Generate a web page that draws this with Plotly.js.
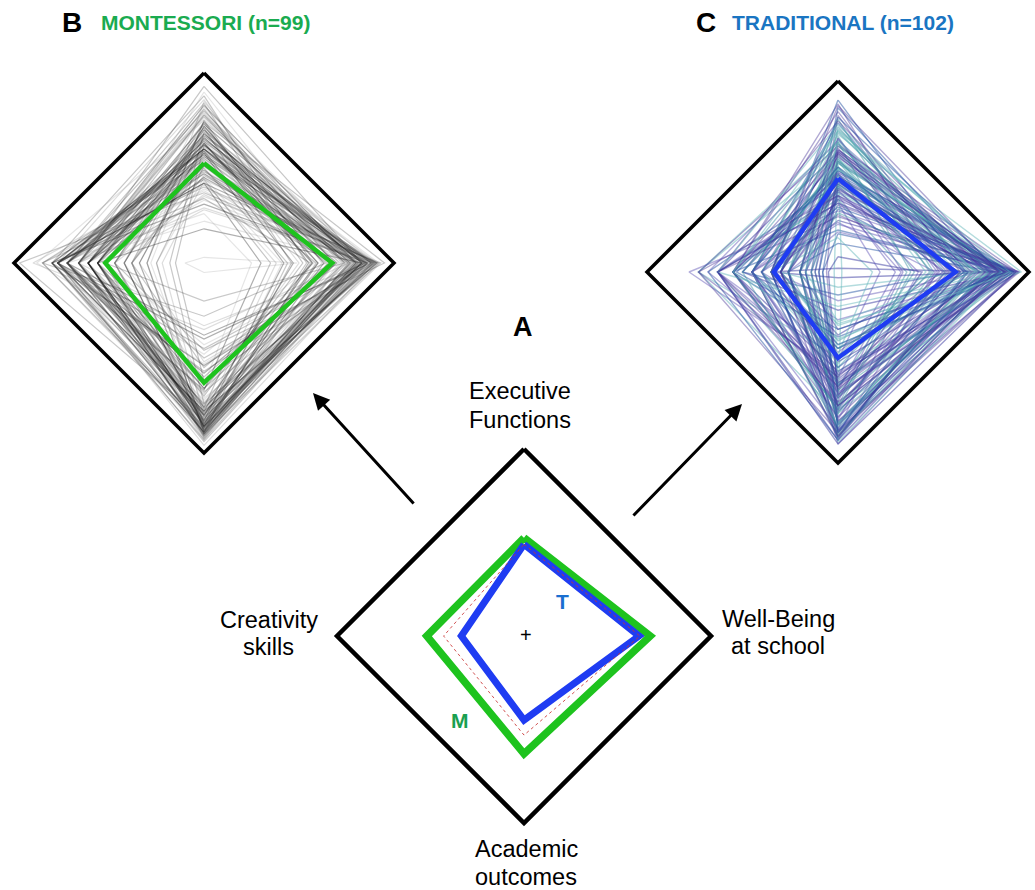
<!DOCTYPE html>
<html>
<head>
<meta charset="utf-8">
<script src="https://cdn.plot.ly/plotly-3.0.1.min.js"></script>
<style>html,body{margin:0;padding:0;background:#fff;}#chart{width:1035px;height:890px;}</style>
</head>
<body>
<div id="chart"></div>
<script>
// ---- Axis names (top, right, bottom, left), two lines each ----
const axisNames = [["Executive", "Functions"], ["Well-Being", "at school"], ["Academic", "outcomes"], ["Creativity", "skills"]];

// ---- Group mean profiles (fraction of the outer diamond) ----
const montMean = { EF: 0.525, WB: 0.675, AO: 0.63, CS: 0.52 };
const tradMean = { EF: 0.49, WB: 0.615, AO: 0.45, CS: 0.335 };
const refProfile = { EF: 0.49, WB: 0.62, AO: 0.53, CS: 0.43 };
const frameLevel = { EF: 1, WB: 1, AO: 1, CS: 1 };

// ---- Montessori individual profiles (n=99) ----
const montEF = [0.62,0.48,0.75,0.55,0.81,0.40,0.68,0.59,0.33,0.72,
0.51,0.86,0.64,0.45,0.57,0.78,0.29,0.66,0.53,0.70,
0.44,0.61,0.83,0.38,0.58,0.74,0.49,0.65,0.22,0.69,
0.56,0.79,0.42,0.63,0.52,0.88,0.35,0.60,0.71,0.47,
0.54,0.67,0.18,0.76,0.50,0.62,0.41,0.73,0.58,0.84,
0.46,0.64,0.31,0.69,0.55,0.77,0.43,0.60,0.90,0.37,
0.66,0.52,0.72,0.26,0.59,0.80,0.48,0.63,0.39,0.70,
0.57,0.85,0.45,0.61,0.34,0.74,0.53,0.68,0.03,0.62,
0.49,0.78,0.42,0.65,0.56,0.71,0.28,0.60,0.82,0.47,
0.67,0.36,0.58,0.75,0.51,0.93,0.44,0.63,0.54];
const montWB = [0.84,0.90,0.55,0.80,0.68,0.92,0.83,0.47,0.86,0.66,
0.79,0.62,0.88,0.41,0.85,0.74,0.90,0.77,0.58,0.83,
0.35,0.87,0.80,0.69,0.91,0.52,0.76,0.89,0.82,0.60,
0.88,0.73,0.30,0.85,0.81,0.57,0.93,0.70,0.78,0.86,
0.64,0.91,0.83,0.78,0.44,0.88,0.67,0.84,0.90,0.54,
0.82,0.50,0.86,0.92,0.75,0.80,0.38,0.85,0.71,0.89,
0.77,0.84,0.63,0.25,0.89,0.79,0.86,0.60,0.93,0.74,
0.90,0.68,0.81,0.87,0.56,0.95,0.72,0.83,0.49,0.80,
0.59,0.85,0.91,0.73,0.82,0.46,0.88,0.76,0.84,0.69,
0.86,0.78,0.42,0.89,0.65,0.83,0.90,0.57,0.81];
const montAO = [0.45,0.83,0.89,0.72,0.60,0.86,0.92,0.78,0.88,0.55,
0.90,0.80,0.38,0.85,0.93,0.66,0.79,0.87,0.48,0.82,
0.76,0.52,0.88,0.91,0.81,0.70,0.35,0.84,0.89,0.74,
0.85,0.92,0.67,0.43,0.86,0.80,0.90,0.58,0.77,0.94,
0.28,0.78,0.86,0.83,0.89,0.62,0.84,0.91,0.71,0.80,
0.88,0.69,0.54,0.90,0.75,0.87,0.81,0.40,0.92,0.83,
0.82,0.91,0.86,0.64,0.50,0.79,0.88,0.85,0.73,0.20,
0.57,0.84,0.90,0.80,0.87,0.46,0.93,0.76,0.05,0.89,
0.86,0.33,0.78,0.92,0.68,0.85,0.81,0.89,0.61,0.77,
0.74,0.88,0.83,0.53,0.90,0.80,0.96,0.66,0.85];
const montCS = [0.77,0.56,0.30,0.72,0.66,0.85,0.47,0.77,0.61,0.38,
0.52,0.77,0.72,0.25,0.80,0.61,0.66,0.42,0.77,0.56,
0.72,0.34,0.66,0.77,0.47,0.56,0.90,0.61,0.72,0.18,
0.61,0.66,0.77,0.52,0.38,0.80,0.56,0.72,0.28,0.77,
0.85,0.47,0.56,0.66,0.72,0.15,0.77,0.61,0.52,0.72,
0.38,0.72,0.80,0.47,0.61,0.66,0.22,0.77,0.56,0.97,
0.66,0.61,0.42,0.77,0.56,0.72,0.85,0.34,0.66,0.52,
0.77,0.30,0.61,0.72,0.80,0.47,0.66,0.56,0.10,0.72,
0.56,0.66,0.77,0.38,0.72,0.61,0.52,0.80,0.42,0.66,
0.72,0.47,0.61,0.88,0.25,0.66,0.77,0.56,0.38];

// ---- Traditional individual profiles (n=102) ----
const tradEF = [0.58,0.42,0.70,0.50,0.78,0.35,0.63,0.55,0.25,0.68,
0.47,0.82,0.60,0.38,0.53,0.74,0.20,0.62,0.45,0.66,
0.40,0.57,0.86,0.30,0.52,0.71,0.44,0.61,0.15,0.65,
0.49,0.76,0.36,0.59,0.46,0.88,0.27,0.54,0.69,0.41,
0.51,0.64,0.02,0.73,0.43,0.58,0.33,0.67,0.50,0.80,
0.39,0.60,0.22,0.66,0.48,0.75,0.37,0.56,0.90,0.29,
0.62,0.45,0.70,0.18,0.53,0.79,0.40,0.59,0.32,0.67,
0.51,0.84,0.38,0.57,0.26,0.72,0.46,0.63,0.08,0.55,
0.42,0.77,0.34,0.61,0.48,0.68,0.21,0.54,0.81,0.40,
0.64,0.31,0.52,0.74,0.44,0.87,0.36,0.58,0.47,0.69,
0.55,0.43];
const tradWB = [0.86,0.93,0.52,0.81,0.66,0.95,0.84,0.40,0.88,0.62,
0.77,0.58,0.90,0.36,0.85,0.72,0.92,0.80,0.55,0.83,
0.30,0.89,0.79,0.68,0.94,0.48,0.75,0.91,0.83,0.57,
0.90,0.71,0.22,0.86,0.81,0.53,0.93,0.69,0.78,0.87,
0.61,0.92,0.84,0.76,0.42,0.89,0.64,0.85,0.90,0.50,
0.83,0.46,0.88,0.94,0.73,0.79,0.33,0.02,0.67,0.90,
0.74,0.85,0.59,0.18,0.90,0.77,0.87,0.56,0.95,0.70,
0.91,0.64,0.80,0.88,0.51,0.96,0.68,0.84,0.44,0.78,
0.56,0.86,0.92,0.70,0.82,0.38,0.89,0.73,0.85,0.63,
0.87,0.75,0.34,0.90,0.60,0.84,0.93,0.49,0.80,0.72,
0.66,0.88];
const tradAO = [0.30,0.72,0.85,0.52,0.40,0.78,0.88,0.60,0.25,0.45,
0.82,0.62,0.20,0.70,0.90,0.45,0.58,0.76,0.33,0.65,
0.55,0.38,0.80,0.87,0.63,0.50,0.15,0.74,0.84,0.42,
0.70,0.86,0.46,0.28,0.79,0.60,0.83,0.36,0.57,0.89,
0.12,0.64,0.03,0.69,0.82,0.40,0.71,0.86,0.52,0.66,
0.78,0.48,0.34,0.84,0.56,0.73,0.62,0.75,0.87,0.68,
0.66,0.85,0.72,0.43,0.30,0.60,0.80,0.74,0.53,0.08,
0.38,0.70,0.83,0.62,0.77,0.27,0.88,0.58,0.65,0.81,
0.76,0.18,0.59,0.86,0.47,0.72,0.64,0.80,0.40,0.55,
0.54,0.79,0.68,0.35,0.84,0.61,0.90,0.44,0.73,0.26,
0.50,0.70];
const tradCS = [0.20,0.55,0.35,0.10,0.45,0.26,0.63,0.17,0.40,0.73,
0.35,0.14,0.50,0.63,0.26,0.45,0.08,0.55,0.30,0.20,
0.63,0.30,0.17,0.45,0.55,0.12,0.35,0.73,0.26,0.40,
0.26,0.45,0.63,0.20,0.10,0.55,0.35,0.30,0.68,0.14,
0.50,0.06,0.35,0.26,0.63,0.40,0.17,0.45,0.55,0.30,
0.14,0.40,0.55,0.73,0.30,0.20,0.45,0.02,0.35,0.63,
0.45,0.26,0.10,0.35,0.53,0.63,0.20,0.40,0.78,0.30,
0.35,0.55,0.26,0.14,0.45,0.35,0.68,0.20,0.05,0.50,
0.17,0.63,0.40,0.30,0.12,0.55,0.26,0.45,0.35,0.73,
0.30,0.20,0.45,0.55,0.08,0.35,0.63,0.26,0.40,0.17,
0.45,0.30];

// ---- Layout helpers ----
const W = 1035, H = 890;
const FONT = "Liberation Sans, Arial, Helvetica, sans-serif";
function panel(cx, cy, r, x0, x1, y0, y1) {
  return {
    x: { domain: [x0 / W, x1 / W], range: [(x0 - cx) / r, (x1 - cx) / r] },
    y: { domain: [(H - y1) / H, (H - y0) / H], range: [(cy - y1) / r, (cy - y0) / r] }
  };
}
const pA = panel(524, 636, 187, 324, 724, 442, 832);
const pB = panel(204, 263, 190, 0, 414, 58, 468);
const pC = panel(838, 272, 191, 628, 1035, 66, 478);

function poly(ef, wb, ao, cs) {
  return { x: [0, wb, 0, -cs, 0], y: [ef, 0, -ao, 0, ef] };
}
function line(p, xa, ya, color, width, dash) {
  const c = poly(p.EF, p.WB, p.AO, p.CS);
  return { type: "scatter", mode: "lines", x: c.x, y: c.y, xaxis: xa, yaxis: ya,
    line: { color: color, width: width, dash: dash || "solid" }, hoverinfo: "skip", showlegend: false };
}

const traces = [];
// Panel B individuals
const grayPal = ["rgba(40,40,40,0.26)", "rgba(100,100,100,0.22)", "rgba(10,10,10,0.32)", "rgba(150,150,150,0.25)", "rgba(60,60,60,0.28)"];
const nM = Math.min(montEF.length, montWB.length, montAO.length, montCS.length);
for (let i = 0; i < nM; i++) {
  traces.push(line({ EF: montEF[i], WB: montWB[i], AO: montAO[i], CS: montCS[i] }, "x2", "y2", grayPal[i % grayPal.length], 1.2));
}
traces.push(line(frameLevel, "x2", "y2", "#000", 3.5));
traces.push(line(montMean, "x2", "y2", "#1ec31e", 4.5));

// Panel C individuals
const bluePal = ["rgba(55,55,160,0.5)", "rgba(55,145,160,0.45)", "rgba(90,80,180,0.45)", "rgba(105,185,190,0.5)", "rgba(40,85,165,0.5)", "rgba(70,50,150,0.42)"];
const nT = Math.min(tradEF.length, tradWB.length, tradAO.length, tradCS.length);
for (let i = 0; i < nT; i++) {
  traces.push(line({ EF: tradEF[i], WB: tradWB[i], AO: tradAO[i], CS: tradCS[i] }, "x3", "y3", bluePal[i % bluePal.length], 1.4));
}
traces.push(line(frameLevel, "x3", "y3", "#000", 3.5));
traces.push(line(tradMean, "x3", "y3", "#1f3cf2", 4.5));

// Panel A
traces.push(line(frameLevel, "x", "y", "#000", 4.5));
traces.push(line(montMean, "x", "y", "#1ec31e", 7.5));
traces.push(line(tradMean, "x", "y", "#1f3cf2", 7));
traces.push(line(refProfile, "x", "y", "rgba(200,50,50,0.85)", 1, "dot"));

function ax(p) { return Object.assign({ visible: false, showgrid: false, zeroline: false, fixedrange: true }, p); }

function px(x) { return x / W; }
function py(y) { return 1 - y / H; }
function txt(text, x, y, size, color, bold) {
  return { text: bold ? "<b>" + text + "</b>" : text, x: px(x), y: py(y), xref: "paper", yref: "paper",
    showarrow: false, xanchor: "center", yanchor: "middle", font: { family: FONT, size: size, color: color } };
}
const LBL = 23.5;
const annotations = [
  txt("B", 72, 22, 28, "#000", true),
  txt("MONTESSORI (n=99)", 205, 22, 21, "#1aab50", true),
  txt("C", 706, 22, 28, "#000", true),
  txt("TRADITIONAL (n=102)", 843, 22, 21, "#1a75c2", true),
  txt("A", 523, 327, 27, "#000", true),
  txt(axisNames[0][0], 520, 391, LBL, "#000", false),
  txt(axisNames[0][1], 520, 419.5, LBL, "#000", false),
  txt(axisNames[1][0], 778, 618.5, LBL, "#000", false),
  txt(axisNames[1][1], 778, 646, LBL, "#000", false),
  txt(axisNames[2][0], 526, 848.5, LBL, "#000", false),
  txt(axisNames[2][1], 526, 877, LBL, "#000", false),
  txt(axisNames[3][0], 268.5, 620, LBL, "#000", false),
  txt(axisNames[3][1], 268.5, 647, LBL, "#000", false),
  txt("M", 460, 720, 21, "#1aa050", true),
  txt("T", 562, 601, 21, "#1a6fd0", true),
  txt("+", 526, 635, 20, "#000", false),
  { x: px(313), y: py(393), xref: "paper", yref: "paper", ax: 415 - 313, ay: 505 - 393, text: "",
    showarrow: true, arrowhead: 2, arrowsize: 1.1, arrowwidth: 3, arrowcolor: "#000" },
  { x: px(742), y: py(404), xref: "paper", yref: "paper", ax: 632 - 742, ay: 517 - 404, text: "",
    showarrow: true, arrowhead: 2, arrowsize: 1.1, arrowwidth: 3, arrowcolor: "#000" }
];

const layout = {
  width: W, height: H, margin: { l: 0, r: 0, t: 0, b: 0 },
  paper_bgcolor: "#fff", plot_bgcolor: "rgba(0,0,0,0)", showlegend: false,
  font: { family: FONT },
  xaxis: ax({ domain: pA.x.domain, range: pA.x.range }),
  yaxis: ax({ domain: pA.y.domain, range: pA.y.range }),
  xaxis2: ax({ domain: pB.x.domain, range: pB.x.range, anchor: "y2" }),
  yaxis2: ax({ domain: pB.y.domain, range: pB.y.range, anchor: "x2" }),
  xaxis3: ax({ domain: pC.x.domain, range: pC.x.range, anchor: "y3" }),
  yaxis3: ax({ domain: pC.y.domain, range: pC.y.range, anchor: "x3" }),
  annotations: annotations
};

Plotly.newPlot("chart", traces, layout, { staticPlot: true, displayModeBar: false });
</script>
</body>
</html>
